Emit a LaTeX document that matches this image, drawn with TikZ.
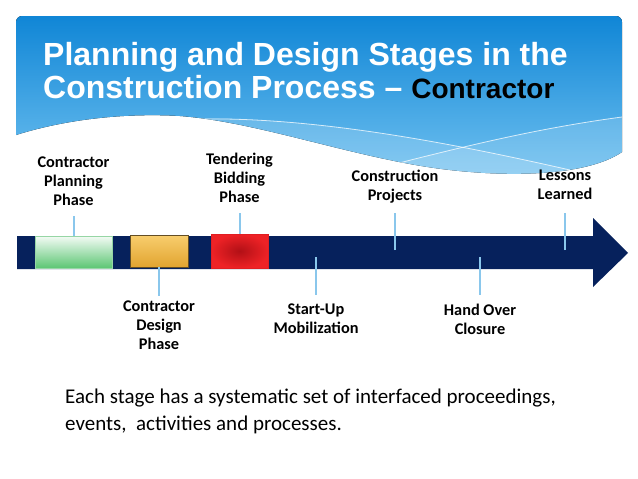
\documentclass[tikz,border=0pt]{standalone}
\usepackage{fontspec}
\setmainfont{Carlito}
\newfontfamily\titlefont{Liberation Sans}
\usetikzlibrary{positioning}
\definecolor{navy}{RGB}{6,33,92}
\definecolor{tickblue}{RGB}{138,199,236}
\definecolor{skytop}{RGB}{16,134,214}
\definecolor{skybot}{RGB}{112,193,240}
\tikzset{
  phasebox/.style = {shape=rectangle, inner sep=0pt, line width=0.8pt},
  planbox/.style  = {phasebox, minimum width=77pt, minimum height=32pt,
                     draw={rgb,255:red,150;green,214;blue,165},
                     top color={rgb,255:red,244;green,251;blue,245},
                     bottom color={rgb,255:red,92;green,198;blue,116}},
  designbox/.style= {phasebox, minimum width=58pt, minimum height=32pt,
                     draw={rgb,255:red,100;green,78;blue,36},
                     top color={rgb,255:red,248;green,206;blue,110},
                     bottom color={rgb,255:red,226;green,164;blue,48}},
  bidbox/.style   = {phasebox, minimum width=57pt, minimum height=34pt,
                     draw={rgb,255:red,225;green,30;blue,34}, shading=radial,
                     inner color={rgb,255:red,178;green,16;blue,22},
                     outer color={rgb,255:red,238;green,34;blue,38}},
  tick/.style     = {draw=tickblue, line width=2pt},
  stagelbl/.style = {font=\bfseries\fontsize{16.3}{19}\selectfont, align=center,
                     inner sep=0pt, text depth=0pt},
  titletxt/.style = {font=\titlefont\bfseries\fontsize{32}{33}\selectfont,
                     text=white, inner sep=0pt, anchor=base west}
}
\newcommand\headerwave{(16,135) [rounded corners=6pt]-- (16,16) -- (622,16)
  [sharp corners]-- (622,152)
  .. controls (590,174) and (520,178) .. (450,170)
  .. controls (360,160) and (260,122) .. (180,116)
  .. controls (130,113) and (70,118) .. (16,135) -- cycle}

\begin{document}
\begin{tikzpicture}
  [
    x = 1pt,
    y = -1pt
  ]
 \useasboundingbox (0,0) rectangle (638,479);
 \fill[white] (0,0) rectangle (638,479);
 % header
 \fill[top color=skytop, bottom color=skybot] \headerwave;
 \begin{scope}
  \clip \headerwave;
  \fill[white, opacity=.16] (190,118) .. controls (320,117) and (460,145) .. (570,170)
    -- (640,200) -- (150,200) -- cycle;
  \fill[white, opacity=.14] (395,164) .. controls (470,145) and (540,128) .. (622,117)
    -- (640,200) -- (380,200) -- cycle;
  \draw[white, opacity=.75, line width=0.8pt]
    (200,119) .. controls (320,117) and (460,145) .. (570,170);
  \draw[white, opacity=.75, line width=0.8pt]
    (395,164) .. controls (470,145) and (540,128) .. (622,117);
 \end{scope}
 \node[titletxt] (title1) at (43,65) {Planning and Design Stages in the};
 \node[titletxt] (title2) at (43,98)
   {Construction Process \textendash{} {\fontsize{28}{30}\selectfont\color{black}Contractor}};

 % timeline arrow
 \fill[navy] (17,236) -- (593,236) -- (593,218) -- (628,253) -- (593,287)
   -- (593,269) -- (17,269) -- cycle;

 \node[planbox]   (plan)   at (73.5,252) {};
 \node[designbox] (design) at (159,251)  {};
 \node[bidbox]    (bid)    at (239.5,251) {};

 \coordinate (plantop)   at (73.5,216);
 \coordinate (designbot) at (159,296);
 \coordinate (bidtop)    at (239.5,213);
 \coordinate (startin)   at (316,257);
 \coordinate (startbot)  at (316,295);
 \coordinate (consin)    at (395,250);
 \coordinate (constop)   at (395,213);
 \coordinate (handin)    at (480,257);
 \coordinate (handbot)   at (480,295);
 \coordinate (lessin)    at (565,250);
 \coordinate (lesstop)   at (565,213);

 \draw[tick] (plan.north) -- (plantop);
 \draw[tick] (design.south) -- (designbot);
 \draw[tick] (bid.north) -- (bidtop);
 \draw[tick] (startin) -- (startbot);
 \draw[tick] (consin) -- (constop);
 \draw[tick] (handin) -- (handbot);
 \draw[tick] (lessin) -- (lesstop);

 \node[stagelbl, above=10pt of plantop]  (planlbl)   {Contractor\\Planning\\Phase};
 \node[stagelbl, below=5pt of designbot] (designlbl) {Contractor\\Design\\Phase};
 \node[stagelbl, above=10pt of bidtop]   (bidlbl)    {Tendering\\Bidding\\Phase};
 \node[stagelbl, below=9pt of startbot]  (startlbl)  {Start-Up\\Mobilization};
 \node[stagelbl, above=12pt of constop]  (conslbl)   {Construction\\Projects};
 \node[stagelbl, below=9pt of handbot]   (handlbl)   {Hand Over\\Closure};
 \node[stagelbl, above=13pt of lesstop]  (lesslbl)   {Lessons\\Learned};

 \node[font=\fontsize{21}{27}\selectfont, align=left, inner sep=0pt, text depth=0pt,
       anchor=south west] (note) at (65,431)
   {Each stage has a systematic set of interfaced proceedings,\\
    events, \ activities and processes.};
\end{tikzpicture}
\end{document}
